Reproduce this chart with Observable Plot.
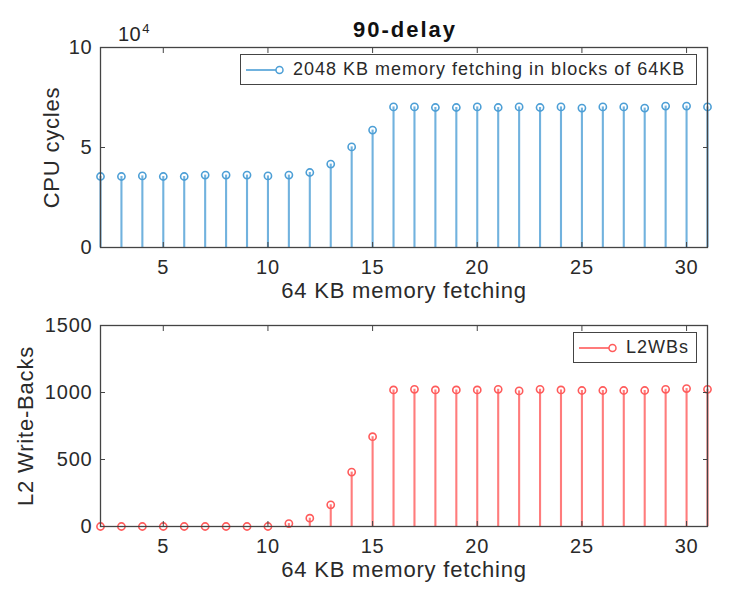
<!DOCTYPE html>
<html><head><meta charset="utf-8">
<script src="https://cdn.jsdelivr.net/npm/d3@7"></script>
<script src="https://cdn.jsdelivr.net/npm/@observablehq/plot@0.6"></script>
<style>
body{margin:0;background:#fff;}
#wrap{position:relative;width:731px;height:591px;overflow:hidden;font-family:"Liberation Sans",Arial,sans-serif;color:#262626;}
.abs{position:absolute;}
.legend{position:absolute;background:#fff;border:1.3px solid #444;box-sizing:border-box;display:flex;align-items:center;font-size:18px;letter-spacing:1px;white-space:nowrap;}
.legend svg{flex:none;}
</style></head><body>
<div id="wrap">
  <div id="top" class="abs" style="left:0;top:0"></div>
  <div id="bot" class="abs" style="left:0;top:310px"></div>
  <div id="title" class="abs" style="left:353px;top:19px;font-size:22px;line-height:22px;font-weight:bold;letter-spacing:2px;color:#111;"></div>
  <div id="expo" class="abs" style="left:118px;top:24px;font-size:20px;line-height:20px;letter-spacing:0.5px;"></div>
  <div id="leg1" class="legend" style="left:240px;top:54px;width:457px;height:31px;"></div>
  <div id="leg2" class="legend" style="left:573px;top:332px;width:124px;height:31px;"></div>
</div>
<script>
// ---- data ----
const fetches = [2,3,4,5,6,7,8,9,10,11,12,13,14,15,16,17,18,19,20,21,22,23,24,25,26,27,28,29,30,31];
const cpuCycles = [3.55,3.55,3.58,3.55,3.55,3.62,3.62,3.62,3.58,3.62,3.75,4.17,5.03,5.87,7.03,7.03,7.0,7.0,7.03,7.0,7.03,7.0,7.03,6.97,7.03,7.03,6.97,7.07,7.07,7.03]; // x 10^4
const l2WriteBacks = [0,0,0,0,0,0,0,0,0,22,62,162,406,670,1019,1024,1019,1019,1019,1024,1012,1024,1019,1015,1015,1015,1015,1024,1029,1024];
const xTicks = [5,10,15,20,25,30];
const cpuTicks = [0,5,10];
const l2Ticks = [0,500,1000,1500];
const titleText = "90-delay";
const xLabel = "64 KB memory fetching";
const cpuLabel = "CPU cycles";
const l2Label = "L2 Write-Backs";
const cpuLegend = "2048 KB memory fetching in blocks of 64KB";
const l2Legend = "L2WBs";
const cpuExponent = 4;

const BLUE = "#4d9fd6";
const RED = "#ff5b5b";
const AXIS = "#444";
const TEXT = "#2a2a2a";

const rows = fetches.map((x, i) => ({x, cpu: cpuCycles[i], l2: l2WriteBacks[i]}));

const style = {fontFamily: '"Liberation Sans", Arial, sans-serif', fontSize: "20px", color: TEXT, background: "transparent", overflow: "visible", letterSpacing: "0.8px"};

function panel({key, ticks, domain, color, height, marginTop, marginBottom, ylabel, ylabelDx}) {
  return Plot.plot({
    width: 731, height, marginLeft: 100, marginRight: 24, marginTop, marginBottom,
    style,
    x: {domain: [2, 31], label: null},
    y: {domain, label: null},
    marks: [
      Plot.ruleX(rows, {x: "x", y1: 0, y2: key, stroke: color, strokeWidth: 2.1, strokeOpacity: 0.8}),
      Plot.dot(rows, {x: "x", y: key, r: 3.6, stroke: color, strokeWidth: 1.6, fill: "none"}),
      Plot.frame({stroke: AXIS, strokeWidth: 1.3}),
      Plot.axisX(xTicks, {anchor: "bottom", tickSize: -5, tickPadding: 17, tickFormat: d => String(d), stroke: AXIS, fill: TEXT, fontSize: 20, label: null}),
      Plot.axisX(xTicks, {anchor: "top", tickSize: -5, tickFormat: () => "", stroke: AXIS, label: null}),
      Plot.axisY(ticks, {anchor: "left", tickSize: -5, tickPadding: 13, tickFormat: d => String(d), stroke: AXIS, fill: TEXT, fontSize: 20, label: null}),
      Plot.axisY(ticks, {anchor: "right", tickSize: -5, tickFormat: () => "", stroke: AXIS, label: null}),
      Plot.text([xLabel], {frameAnchor: "bottom", dy: 50, fontSize: 22, fill: TEXT}),
      Plot.text([ylabel], {frameAnchor: "left", textAnchor: "middle", dx: ylabelDx, rotate: -90, fontSize: 22, fill: TEXT})
    ]
  });
}

document.getElementById("top").append(panel({key: "cpu", ticks: cpuTicks, domain: [0, 10], color: BLUE, height: 310, marginTop: 47, marginBottom: 63, ylabel: cpuLabel, ylabelDx: -49}));
document.getElementById("bot").append(panel({key: "l2", ticks: l2Ticks, domain: [0, 1500], color: RED, height: 281, marginTop: 15, marginBottom: 65, ylabel: l2Label, ylabelDx: -75}));

document.getElementById("title").textContent = titleText;
document.getElementById("expo").innerHTML = `10<span style="position:relative;top:-8px;font-size:13px;margin-left:1px">${cpuExponent}</span>`;

function legend(el, color, label) {
  el.innerHTML = `<svg width="52" height="20"><line x1="5" x2="35" y1="10" y2="10" stroke="${color}" stroke-width="1.6"/><circle cx="38.5" cy="10" r="3.5" fill="none" stroke="${color}" stroke-width="1.5"/></svg><span style="color:${TEXT}">${label}</span>`;
}
legend(document.getElementById("leg1"), BLUE, cpuLegend);
legend(document.getElementById("leg2"), RED, l2Legend);
</script>
</body></html>
